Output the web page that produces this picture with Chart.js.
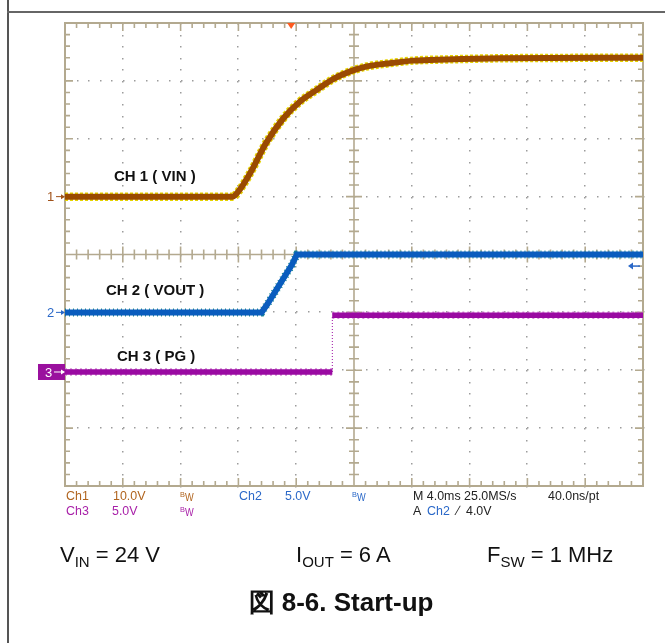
<!DOCTYPE html>
<html>
<head>
<meta charset="utf-8">
<script src="https://cdn.jsdelivr.net/npm/chart.js@4.4.0/dist/chart.umd.min.js"></script>
<style>
  body { margin: 0; background: #fff; }
  #page { position: relative; width: 665px; height: 643px; overflow: hidden; font-family: "Liberation Sans", Arial, sans-serif; }
  #scope { position: absolute; left: 0; top: 0; }
  .rule-v { position: absolute; left: 7px; top: 0; width: 2px; height: 643px; background: #555; }
  .rule-h { position: absolute; left: 7px; top: 11px; width: 660px; height: 2px; background: #666; }
  .ro { position: absolute; font-size: 13.5px; line-height: 14px; white-space: nowrap; transform: scaleX(0.92); transform-origin: 0 0; }
  .bw b { font-weight: normal; font-size: 8px; position: relative; top: -3px; }
  .bw i { font-style: normal; font-size: 10px; position: relative; top: 1px; }
  .cap { position: absolute; font-size: 22px; line-height: 24px; color: #111; white-space: nowrap; }
  .cap sub { font-size: 15px; vertical-align: -5px; line-height: 0; }
  .title { position: absolute; left: 0; width: 682px; text-align: center; top: 585px; font-size: 26px; font-weight: bold; color: #111; }
</style>
</head>
<body>
<div id="page">
  <canvas id="scope" width="665" height="643"></canvas>
  <div class="rule-v"></div>
  <div class="rule-h"></div>

  <div class="ro" style="left:66px;top:489px;color:#B0641E">Ch1</div>
  <div class="ro" style="left:113px;top:489px;color:#B0641E">10.0V</div>
  <div class="ro bw" style="left:180px;top:489px;color:#B0641E"><b>B</b><i>W</i></div>
  <div class="ro" style="left:239px;top:489px;color:#2A68C8">Ch2</div>
  <div class="ro" style="left:285px;top:489px;color:#2A68C8">5.0V</div>
  <div class="ro bw" style="left:352px;top:489px;color:#2A68C8"><b>B</b><i>W</i></div>
  <div class="ro" style="left:413px;top:489px;color:#222">M 4.0ms 25.0MS/s</div>
  <div class="ro" style="left:548px;top:489px;color:#222">40.0ns/pt</div>
  <div class="ro" style="left:66px;top:504px;color:#A820A8">Ch3</div>
  <div class="ro" style="left:112px;top:504px;color:#A820A8">5.0V</div>
  <div class="ro bw" style="left:180px;top:504px;color:#A820A8"><b>B</b><i>W</i></div>
  <div class="ro" style="left:413px;top:504px;color:#222">A</div>
  <div class="ro" style="left:427px;top:504px;color:#2A68C8">Ch2</div>
  <div class="ro" style="left:457px;top:504px;color:#222">&#x2215;&nbsp;&nbsp;4.0V</div>

  <div class="cap" style="left:60px;top:543px">V<sub>IN</sub> = 24 V</div>
  <div class="cap" style="left:296px;top:543px">I<sub>OUT</sub> = 6 A</div>
  <div class="cap" style="left:487px;top:543px">F<sub>SW</sub> = 1 MHz</div>
  <div class="title">図 8-6. Start-up</div>
</div>
<script>
// time in ms from left edge of screen, 4 ms/div, 10 div
var timeTicks = [0, 4, 8, 12, 16, 20, 24, 28, 32, 36, 40];

// CH1 = VIN (10 V/div)
var ch1Time  = [0, 11.6, 12.0, 12.8, 13.9, 15.1, 16.25, 17.4, 18.55, 19.7, 20.9, 22.3, 24.1, 26.4, 30.1, 40];
var ch1Volts = [0, 0,    0.9,  4.0,  9.2,  13.5, 16.4,  18.4, 20.3,  21.6, 22.5, 23.0, 23.5, 23.7, 23.9, 24.0];

// CH2 = VOUT (5 V/div)
var ch2Time  = [0, 13.6, 14.0, 15.7, 16.05, 40];
var ch2Volts = [0, 0,    0.7,  4.1,  5.0,   5.0];

// CH3 = PG (5 V/div)
var ch3Time  = [0, 18.5, 18.5, 40];
var ch3Volts = [0, 0,    4.9,  4.9];

// channel setup: volts per div, ground position in div from bottom
var chVoltsDiv = [10, 5, 5];
var chGround   = [5.0, 3.0, 1.97];
var chLabels   = ["CH 1 ( VIN )", "CH 2 ( VOUT )", "CH 3 ( PG )"];
var triggerTime = 15.65;
var triggerLevel = 4.0;

function pts(t, v) {
  return t.map(function (x, i) { return { x: x, y: v[i] }; });
}
function chScale(i) {
  return { min: -chGround[i] * chVoltsDiv[i], max: (8 - chGround[i]) * chVoltsDiv[i], display: false };
}
function isVertical(c) { return c.p0.parsed.x === c.p1.parsed.x; }

var tan = '#B3A98F';

var graticule = {
  id: 'graticule',
  beforeDatasetsDraw: function (chart) {
    var ctx = chart.ctx, sx = chart.scales.x, sy = chart.scales.yDiv, a = chart.chartArea;
    var X = function (t) { return sx.getPixelForValue(t); };
    var Y = function (d) { return sy.getPixelForValue(d); };
    ctx.save();
    // dotted grid
    ctx.fillStyle = '#9C9C9C';
    timeTicks.forEach(function (t, i) {
      if (i === 0 || i === 10 || i === 5) return;
      for (var j = 0; j <= 40; j++) ctx.fillRect(Math.round(X(t)) - 1, Math.round(Y(j * 0.2)), 1.5, 1.5);
    });
    for (var k = 1; k < 8; k++) {
      if (k === 4) continue;
      for (var m = 0; m <= 50; m++) ctx.fillRect(Math.round(X(m * 0.8)), Math.round(Y(k)) - 1, 1.5, 1.5);
    }
    ctx.strokeStyle = tan;
    ctx.lineWidth = 1.6;
    // centre cross and edge ticks
    var cx = X(20), cy = Y(4);
    ctx.beginPath();
    ctx.moveTo(cx, a.top); ctx.lineTo(cx, a.bottom);
    ctx.moveTo(a.left, cy); ctx.lineTo(a.right, cy);
    for (var j2 = 1; j2 < 40; j2++) {
      var yy = Y(j2 * 0.2), h = (j2 % 5 === 0) ? 8 : 5;
      ctx.moveTo(cx - h, yy); ctx.lineTo(cx + h, yy);
      ctx.moveTo(a.left, yy); ctx.lineTo(a.left + h, yy);
      ctx.moveTo(a.right, yy); ctx.lineTo(a.right - h, yy);
    }
    for (var m2 = 1; m2 < 50; m2++) {
      var xx = X(m2 * 0.8), w = (m2 % 5 === 0) ? 8 : 5;
      ctx.moveTo(xx, cy - w); ctx.lineTo(xx, cy + w);
      ctx.moveTo(xx, a.top); ctx.lineTo(xx, a.top + w);
      ctx.moveTo(xx, a.bottom); ctx.lineTo(xx, a.bottom - w);
    }
    ctx.stroke();
    ctx.lineWidth = 2;
    ctx.strokeRect(a.left, a.top, a.right - a.left, a.bottom - a.top);
    ctx.restore();
  },
  afterDatasetsDraw: function (chart) {
    var ctx = chart.ctx, sx = chart.scales.x, a = chart.chartArea;
    var g1 = chart.scales.y1.getPixelForValue(0);
    var g2 = chart.scales.y2.getPixelForValue(0);
    var g3 = chart.scales.y3.getPixelForValue(0);
    ctx.save();
    // channel labels
    ctx.fillStyle = '#111';
    ctx.font = 'bold 15px "Liberation Sans", Arial, sans-serif';
    ctx.textBaseline = 'middle';
    ctx.fillText(chLabels[0], 114, 177);
    ctx.fillText(chLabels[1], 106, 291);
    ctx.fillText(chLabels[2], 117, 357);
    // ground markers
    ctx.font = '13px "Liberation Sans", Arial, sans-serif';
    function marker(y, col, txt, x0) {
      ctx.fillStyle = col; ctx.strokeStyle = col; ctx.lineWidth = 1;
      ctx.fillText(txt, x0, y + 1);
      ctx.beginPath(); ctx.moveTo(x0 + 9, y); ctx.lineTo(a.left - 1, y); ctx.stroke();
      ctx.beginPath(); ctx.moveTo(a.left, y); ctx.lineTo(a.left - 4, y - 2.5); ctx.lineTo(a.left - 4, y + 2.5); ctx.fill();
    }
    marker(g1, '#A0521A', '1', 47);
    marker(g2, '#2A68C8', '2', 47);
    ctx.fillStyle = '#9A109E';
    ctx.fillRect(38, g3 - 8, a.left - 38, 16);
    marker(g3, '#FFFFFF', '3', 45);
    // trigger position
    var tx = sx.getPixelForValue(triggerTime);
    ctx.fillStyle = '#FF5A1E';
    ctx.beginPath(); ctx.moveTo(tx - 4, a.top); ctx.lineTo(tx + 4, a.top); ctx.lineTo(tx, a.top + 6); ctx.fill();
    // trigger level
    var ty = chart.scales.y2.getPixelForValue(triggerLevel);
    ctx.strokeStyle = '#2A68C8'; ctx.fillStyle = '#2A68C8'; ctx.lineWidth = 1.5;
    ctx.beginPath(); ctx.moveTo(a.right - 3, ty); ctx.lineTo(a.right - 13, ty); ctx.stroke();
    ctx.beginPath(); ctx.moveTo(a.right - 15, ty); ctx.lineTo(a.right - 10, ty - 3.5); ctx.lineTo(a.right - 10, ty + 3.5); ctx.fill();
    ctx.restore();
  }
};

new Chart(document.getElementById('scope'), {
  type: 'line',
  data: {
    datasets: [
      { data: pts(ch3Time, ch3Volts), yAxisID: 'y3', borderColor: '#9A0AA2', borderWidth: 5.5, order: 1,
        segment: { borderWidth: function (c) { return isVertical(c) ? 1 : undefined; },
                   borderDash: function (c) { return isVertical(c) ? [1, 2] : undefined; } } },
      { data: pts(ch3Time, ch3Volts), yAxisID: 'y3', borderColor: '#D68AD8', borderWidth: 7.5, borderDash: [2, 3], order: 2,
        segment: { borderColor: function (c) { return isVertical(c) ? 'rgba(0,0,0,0)' : undefined; } } },
      { data: pts(ch2Time, ch2Volts), yAxisID: 'y2', borderColor: '#0A5CBE', borderWidth: 6, order: 3 },
      { data: pts(ch2Time, ch2Volts), yAxisID: 'y2', borderColor: '#1E8C90', borderWidth: 8, borderDash: [1, 3], order: 4 },
      { data: pts(ch1Time, ch1Volts), yAxisID: 'y1', borderColor: '#9A4A02', borderWidth: 6, order: 5, cubicInterpolationMode: 'monotone' },
      { data: pts(ch1Time, ch1Volts), yAxisID: 'y1', borderColor: '#E6D400', borderWidth: 8.5, borderDash: [3, 2], order: 6, cubicInterpolationMode: 'monotone' }
    ]
  },
  options: {
    responsive: false,
    animation: false,
    devicePixelRatio: 1,
    layout: { padding: { left: 65, right: 22, top: 23, bottom: 157 } },
    elements: { point: { radius: 0 }, line: { tension: 0, borderCapStyle: 'butt' } },
    plugins: { legend: { display: false }, tooltip: { enabled: false } },
    scales: {
      x: { type: 'linear', min: timeTicks[0], max: timeTicks[timeTicks.length - 1], display: false },
      yDiv: { type: 'linear', min: 0, max: 8, display: false },
      y1: chScale(0),
      y2: chScale(1),
      y3: chScale(2)
    }
  },
  plugins: [graticule]
});
</script>
</body>
</html>
